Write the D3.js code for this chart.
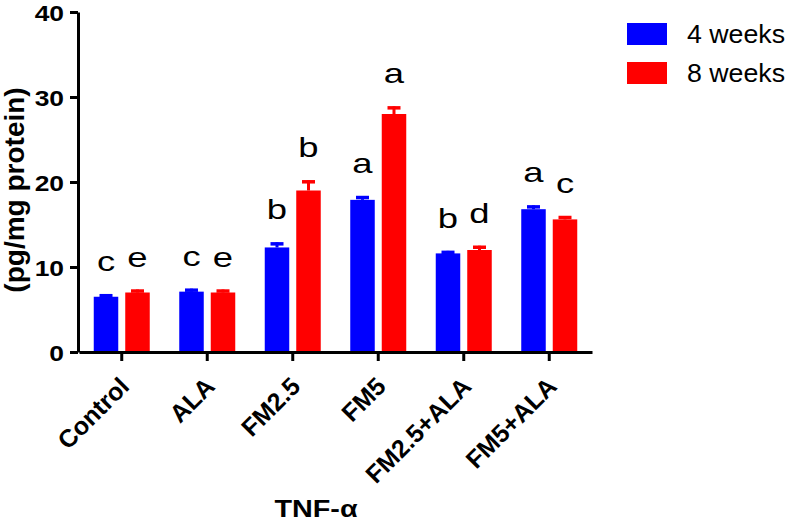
<!DOCTYPE html>
<html>
<head>
<meta charset="utf-8">
<script src="https://cdn.jsdelivr.net/npm/d3@7"></script>
<style>
  html, body { margin: 0; padding: 0; background: #fff; overflow: hidden; }
  svg { display: block; font-family: "Liberation Sans", Arial, sans-serif; }
</style>
</head>
<body>
<svg id="chart" width="787" height="524"></svg>
<script>
const categories = ["Control", "ALA", "FM2.5", "FM5", "FM2.5+ALA", "FM5+ALA"];
const seriesNames = ["4 weeks", "8 weeks"];
const weeks4 = [6.5, 7.1, 12.3, 17.9, 11.6, 16.8];
const weeks8 = [7.0, 7.0, 19.0, 28.0, 12.0, 15.6];
const err4 = [0.3, 0.35, 0.6, 0.45, 0.3, 0.45];
const err8 = [0.35, 0.35, 1.2, 0.9, 0.5, 0.4];
const letters4 = ["c", "c", "b", "a", "b", "a"];
const letters8 = ["e", "e", "b", "a", "d", "c"];
const yTicks = [0, 10, 20, 30, 40];
const colors = ["#0000FF", "#FF0000"];

const svg = d3.select("#chart");

const x0 = d3.scaleBand().domain(categories).range([79, 592]).paddingInner(0).paddingOuter(0);
const x1 = d3.scaleBand().domain(seriesNames).range([0, 56]).paddingInner(0.222).paddingOuter(0);
const y = d3.scaleLinear().domain([0, 40]).range([352, 12]);

const data = [];
categories.forEach((c, i) => {
  data.push({cat: c, s: seriesNames[0], v: weeks4[i], e: err4[i], l: letters4[i], col: colors[0]});
  data.push({cat: c, s: seriesNames[1], v: weeks8[i], e: err8[i], l: letters8[i], col: colors[1]});
});
const bx = d => x0(d.cat) + x0.bandwidth() / 2 - 28 + x1(d.s);
const bw = x1.bandwidth();

// bars
svg.append("g").selectAll("rect").data(data).join("rect")
  .attr("x", bx)
  .attr("y", d => y(d.v))
  .attr("width", bw)
  .attr("height", d => y(0) - y(d.v))
  .attr("fill", d => d.col);

// error bars (upper only)
const eg = svg.append("g");
eg.selectAll("line.stem").data(data).join("line")
  .attr("class", "stem")
  .attr("x1", d => bx(d) + bw / 2).attr("x2", d => bx(d) + bw / 2)
  .attr("y1", d => y(d.v)).attr("y2", d => y(d.v + d.e))
  .attr("stroke", d => d.col).attr("stroke-width", 3);
eg.selectAll("line.cap").data(data).join("line")
  .attr("class", "cap")
  .attr("x1", d => bx(d) + bw / 2 - 6.5).attr("x2", d => bx(d) + bw / 2 + 6.5)
  .attr("y1", d => y(d.v + d.e) + 1.5).attr("y2", d => y(d.v + d.e) + 1.5)
  .attr("stroke", d => d.col).attr("stroke-width", 3.5);

// significance letters
svg.append("g").selectAll("text").data(data).join("text")
  .attr("transform", d => `translate(${bx(d) + bw / 2},${y(d.v + d.e) - 23}) scale(1.35,1)`)
  .attr("text-anchor", "middle")
  .attr("font-size", 27)
  .attr("fill", "#000")
  .text(d => d.l);

// y axis
const yAxis = svg.append("g").attr("transform", "translate(78,0)")
  .call(d3.axisLeft(y).tickValues(yTicks).tickSize(8).tickSizeOuter(0));
yAxis.select(".domain").attr("stroke", "#000").attr("stroke-width", 3);
yAxis.selectAll(".tick line").attr("stroke", "#000").attr("stroke-width", 3);
yAxis.selectAll(".tick text")
  .attr("x", null).attr("dy", null)
  .attr("transform", "translate(-14,8) scale(1.2,1)")
  .attr("font-size", 22).attr("font-weight", "bold").attr("fill", "#000")
  .attr("font-family", "Liberation Sans, Arial, sans-serif");

// x axis
const xAxis = svg.append("g").attr("transform", "translate(0,352)")
  .call(d3.axisBottom(x0).tickSize(9).tickSizeOuter(0));
xAxis.select(".domain").attr("stroke", "#000").attr("stroke-width", 3);
xAxis.selectAll(".tick line").attr("stroke", "#000").attr("stroke-width", 3);
xAxis.selectAll(".tick text")
  .attr("y", null).attr("dy", null)
  .attr("text-anchor", "end")
  .attr("transform", "translate(9,36) rotate(-45)")
  .attr("font-size", 25).attr("font-weight", "bold").attr("fill", "#000")
  .attr("font-family", "Liberation Sans, Arial, sans-serif");

// y axis title
svg.append("text")
  .attr("transform", "translate(24,190) rotate(-90)")
  .attr("text-anchor", "middle")
  .attr("font-size", 28).attr("font-weight", "bold")
  .text("(pg/mg protein)");

// x axis title
svg.append("text")
  .attr("transform", "translate(316,517) scale(1.25,1)")
  .attr("text-anchor", "middle")
  .attr("font-size", 23).attr("font-weight", "bold")
  .text("TNF-α");

// legend
const lg = svg.append("g");
seriesNames.forEach((s, i) => {
  lg.append("rect").attr("x", 627).attr("y", 23 + i * 39).attr("width", 40).attr("height", 22)
    .attr("fill", colors[i]);
  lg.append("text")
    .attr("transform", `translate(687,${43 + i * 39}) scale(1.07,1)`)
    .attr("font-size", 25)
    .text(s);
});
</script>
</body>
</html>
